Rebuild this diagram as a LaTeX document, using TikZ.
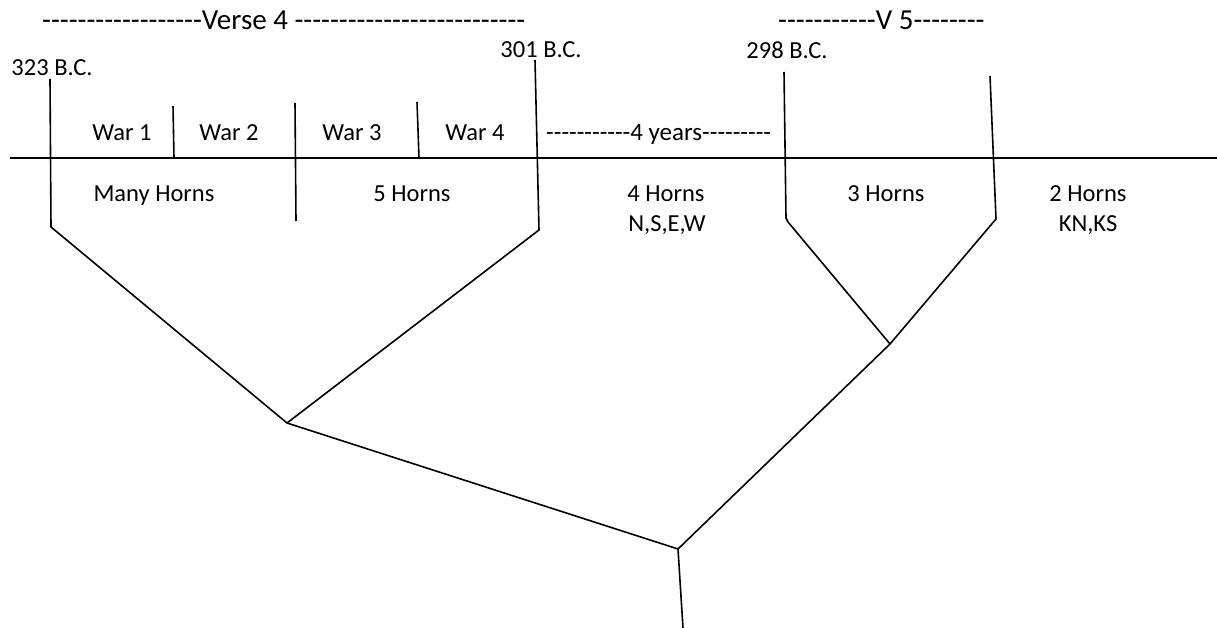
\documentclass[tikz,border=0pt]{standalone}
\usepackage{fontspec}
\setmainfont{Carlito}
\newcommand\dsh[1]{\foreach\dd in {1,...,#1}{\mbox{-}}}
\begin{document}
\begin{tikzpicture}[x=1pt,y=-1pt,
  lbl/.style={font=\fontsize{24.5}{26}\selectfont, inner sep=0pt, anchor=base},
  hdr/.style={font=\fontsize{29}{31}\selectfont, inner sep=0pt, anchor=base west},
  lne/.style={draw=black, line width=1.6pt}]
\useasboundingbox (0,0) rectangle (1217,628);

% timeline
\coordinate (tl) at (10,158);
\coordinate (tr) at (1217,158);
\draw[lne] (tl) -- (tr);

% coordinates of the tree
\coordinate (a1) at (50,79);   \coordinate (a2) at (51,227);
\coordinate (b1) at (535,60);  \coordinate (b2) at (539,230);
\coordinate (c1) at (784,72);  \coordinate (c2) at (786,218); \coordinate (c3) at (788,222);
\coordinate (d1) at (990,76);  \coordinate (d2) at (996,219);
\coordinate (j1) at (287,423);
\coordinate (j2) at (890,344);
\coordinate (j3) at (678,549);
\coordinate (j4) at (683,628);

\draw[lne] (a1) -- (a2) -- (j1) -- (b2) -- (b1);
\draw[lne] (c1) -- (c2) -- (c3) -- (j2) -- (d2) -- (d1);
\draw[lne] (j1) -- (j3) -- (j2);
\draw[lne] (j3) -- (j4);

% dividers
\coordinate (w1t) at (173,106); \coordinate (w1b) at (174,158);
\coordinate (w2t) at (295,103); \coordinate (w2b) at (296,221);
\coordinate (w3t) at (417,102); \coordinate (w3b) at (419,158);
\draw[lne] (w1t) -- (w1b);
\draw[lne] (w2t) -- (w2b);
\draw[lne] (w3t) -- (w3b);

% headers
\node[hdr] (h4) at (42,30) {\dsh{18}Verse 4 \dsh{26}};
\node[hdr] (h5) at (778,30) {\dsh{11}V 5\dsh{8}};

% dates
\node[lbl] (d323) at (52,76) {323 B.C.};
\node[lbl] (d301) at (541,58) {301 B.C.};
\node[lbl] (d298) at (787,59) {298 B.C.};

% wars
\node[lbl] (war1) at (122,141) {War 1};
\node[lbl] (war2) at (229,141) {War 2};
\node[lbl] (war3) at (352,141) {War 3};
\node[lbl] (war4) at (475,141) {War 4};
\node[lbl, anchor=base west, font=\fontsize{25}{27}\selectfont] (yrs) at (546,141) {\dsh{11}4 years\dsh{9}};

% horns
\node[lbl] (many) at (154,202) {Many Horns};
\node[lbl] (five) at (412,202) {5 Horns};
\node[lbl] (four) at (666,202) {4 Horns};
\node[lbl] (nsew) at (667,232) {N,S,E,W};
\node[lbl] (three) at (886,202) {3 Horns};
\node[lbl] (two) at (1088,202) {2 Horns};
\node[lbl] (knks) at (1088,232) {KN,KS};
\end{tikzpicture}
\end{document}
